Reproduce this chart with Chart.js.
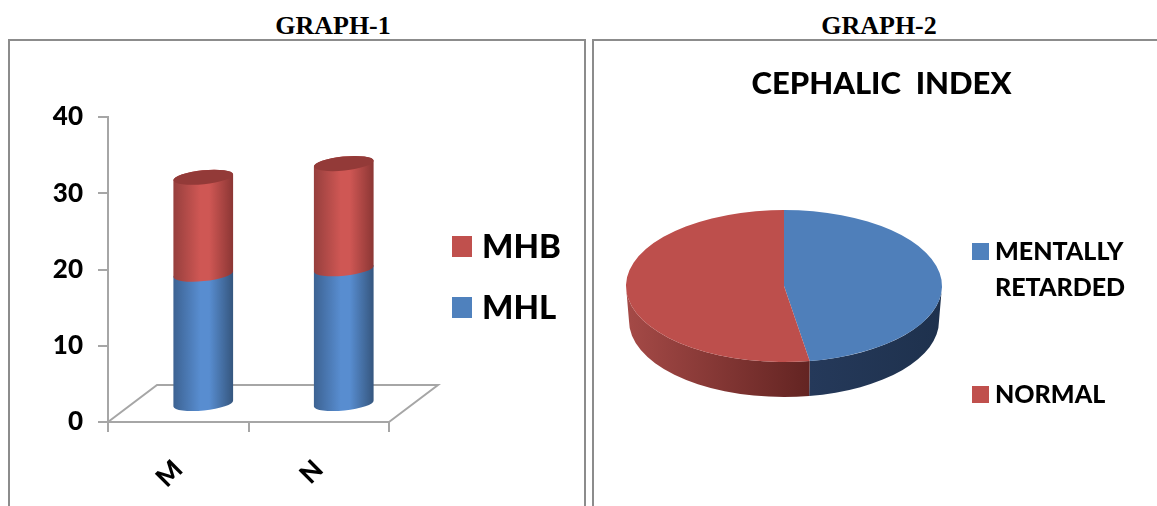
<!DOCTYPE html>
<html>
<head>
<meta charset="utf-8">
<script src="https://cdn.jsdelivr.net/npm/chart.js@4"></script>
<style>
  html, body { margin: 0; width: 1157px; height: 506px; overflow: hidden; background: #fff; }
  .abs { position: absolute; white-space: nowrap; }
  .heading { font: bold 26px/1 "Liberation Serif", serif; color: #000; transform: translateX(-50%); }
  .panel { border: 2px solid #8c8c8c; border-bottom: none; box-sizing: border-box; }
  .swatch { position: absolute; }
  .legend-text { font-family: Lato, sans-serif; font-weight: 900; color: #000; line-height: 1; transform: translateY(-50%); }
  canvas { position: absolute; }
</style>
</head>
<body>
<div class="abs panel" style="left:8px;top:39px;width:578px;height:470px"></div>
<div class="abs panel" style="left:592px;top:39px;width:600px;height:470px"></div>
<div class="abs heading" style="left:333px;top:13px">GRAPH-1</div>
<div class="abs heading" style="left:879px;top:13px">GRAPH-2</div>

<canvas id="barChart" width="575" height="466" style="left:9px;top:40px"></canvas>
<canvas id="pieChart" width="575" height="466" style="left:594px;top:40px"></canvas>

<div class="swatch" style="left:452px;top:236px;width:20px;height:21px;background:#c0504d"></div>
<div class="abs legend-text" style="left:482px;top:245px;font-size:33px">MHB</div>
<div class="swatch" style="left:452px;top:297px;width:20px;height:21px;background:#4f81bd"></div>
<div class="abs legend-text" style="left:482px;top:306px;font-size:33px">MHL</div>

<div class="swatch" style="left:972px;top:243px;width:17px;height:17px;background:#4f81bd"></div>
<div class="abs legend-text" style="left:995px;top:250px;font-size:25px">MENTALLY</div>
<div class="abs legend-text" style="left:995px;top:286px;font-size:25px">RETARDED</div>
<div class="swatch" style="left:972px;top:386px;width:17px;height:17px;background:#c0504d"></div>
<div class="abs legend-text" style="left:995px;top:393px;font-size:25px">NORMAL</div>

<script>
const categories = ['M', 'N'];
const mhlValues = [17.1, 17.8];
const mhbValues = [12.7, 13.8];
const pieLabels = ['MENTALLY RETARDED', 'NORMAL'];
const pieValues = [47.4, 52.6];

const AXIS_GRAY = '#a6a6a6';
const LABEL_FONT = 'Lato';

// oblique offset of the bars and the floor behind the axes
const BAR_DX = 25, BAR_DY = -17.5;
const FLOOR_DX = 49, FLOOR_DY = -37;
const TILT = -0.1, CAP_RY = 7;

const barColors = [
  { dark1: '#3c6292', light: '#588dd0', dark2: '#35567e' },
  { dark1: '#963f3d', light: '#cf5754', dark2: '#8b3634' },
];

// Draws the floor, and replaces the flat bars with tilted cylinders
const cylinderPlugin = {
  id: 'cylinders',
  beforeDatasetsDraw(chart) {
    const { ctx, chartArea: a } = chart;
    ctx.save();
    ctx.strokeStyle = AXIS_GRAY;
    ctx.lineWidth = 2;
    ctx.beginPath();
    ctx.moveTo(a.left, a.bottom);
    ctx.lineTo(a.left + FLOOR_DX, a.bottom + FLOOR_DY);
    ctx.lineTo(a.right + FLOOR_DX, a.bottom + FLOOR_DY);
    ctx.lineTo(a.right, a.bottom);
    ctx.stroke();
    ctx.restore();
  },
  beforeDatasetDraw() {
    return false;
  },
  afterDatasetsDraw(chart) {
    const { ctx } = chart;
    chart.data.datasets.forEach((ds, i) => {
      const colors = barColors[i];
      chart.getDatasetMeta(i).data.forEach((bar) => {
        const x = bar.x + BAR_DX;
        const rx = bar.width / 2;
        const grad = ctx.createLinearGradient(x - rx, 0, x + rx, 0);
        grad.addColorStop(0, colors.dark1);
        grad.addColorStop(0.45, colors.light);
        grad.addColorStop(0.6, colors.light);
        grad.addColorStop(1, colors.dark2);
        ctx.save();
        ctx.fillStyle = grad;
        ctx.beginPath();
        ctx.ellipse(x, bar.base + BAR_DY, rx, CAP_RY, TILT, 0, Math.PI);
        ctx.ellipse(x, bar.y + BAR_DY, rx, CAP_RY, TILT, Math.PI, Math.PI * 2);
        ctx.closePath();
        ctx.fill();
        if (i === chart.data.datasets.length - 1) {
          ctx.fillStyle = '#933a38';
          ctx.beginPath();
          ctx.ellipse(x, bar.y + BAR_DY, rx, CAP_RY, TILT, 0, Math.PI * 2);
          ctx.fill();
        }
        ctx.restore();
      });
    });
  },
};

new Chart(document.getElementById('barChart'), {
  type: 'bar',
  data: {
    labels: categories,
    datasets: [
      { label: 'MHL', data: mhlValues, backgroundColor: '#4f81bd', barThickness: 60 },
      { label: 'MHB', data: mhbValues, backgroundColor: '#c0504d', barThickness: 60 },
    ],
  },
  options: {
    responsive: false,
    animation: false,
    layout: { padding: { top: 77, right: 195, left: 0, bottom: 0 } },
    plugins: { legend: { display: false }, tooltip: { enabled: false } },
    scales: {
      x: {
        stacked: true,
        afterFit: (s) => { s.height = 84; },
        grid: { drawOnChartArea: false, color: AXIS_GRAY, lineWidth: 2, tickLength: 10 },
        border: { color: AXIS_GRAY, width: 2 },
        ticks: {
          color: '#000',
          padding: 22,
          maxRotation: 45,
          minRotation: 45,
          font: { family: LABEL_FONT, weight: '900', size: 26 },
        },
      },
      y: {
        stacked: true,
        min: 0,
        max: 40,
        afterFit: (s) => { s.width = 99; },
        grid: { drawOnChartArea: false, color: AXIS_GRAY, lineWidth: 2, tickLength: 10 },
        border: { color: AXIS_GRAY, width: 2 },
        ticks: {
          stepSize: 10,
          color: '#000',
          padding: 15,
          font: { family: LABEL_FONT, weight: '900', size: 26 },
        },
      },
    },
  },
  plugins: [cylinderPlugin],
});

// Squashes the pie into an ellipse and puts a side wall under it
const PIE_SQUASH = 76 / 158;
const PIE_CENTER_X = 190, PIE_CENTER_Y = 246; // canvas coordinates
const PIE_DEPTH = 35;
const sideColors = [
  ['#25395a', '#1e314d'],
  ['#a54a47', '#632422'],
];

const tiltPlugin = {
  id: 'tiltedPie',
  beforeDatasetsDraw(chart) {
    const { ctx } = chart;
    const arcs = chart.getDatasetMeta(0).data;
    const cy = arcs[0].y;
    const rx = arcs[0].outerRadius;
    const ry = rx * PIE_SQUASH;
    arcs.forEach((arc, i) => {
      const from = Math.max(arc.startAngle, 0);
      const to = Math.min(arc.endAngle, Math.PI);
      if (to <= from) return;
      const grad = ctx.createLinearGradient(
        PIE_CENTER_X + rx * Math.cos(to), 0,
        PIE_CENTER_X + rx * Math.cos(from), 0
      );
      grad.addColorStop(0, sideColors[i][0]);
      grad.addColorStop(1, sideColors[i][1]);
      ctx.save();
      ctx.fillStyle = grad;
      ctx.beginPath();
      ctx.ellipse(PIE_CENTER_X, PIE_CENTER_Y, rx, ry, 0, from, to);
      ctx.ellipse(PIE_CENTER_X, PIE_CENTER_Y + PIE_DEPTH, rx - 3, ry, 0, to, from, true);
      ctx.closePath();
      ctx.fill();
      ctx.restore();
    });
    ctx.save();
    ctx.translate(PIE_CENTER_X, PIE_CENTER_Y);
    ctx.scale(1, PIE_SQUASH);
    ctx.translate(-arcs[0].x, -cy);
  },
  afterDatasetsDraw(chart) {
    chart.ctx.restore();
  },
};

new Chart(document.getElementById('pieChart'), {
  type: 'pie',
  data: {
    labels: pieLabels,
    datasets: [{ data: pieValues, backgroundColor: ['#4f7fba', '#bd4f4c'], borderWidth: 0, radius: 158 }],
  },
  options: {
    responsive: false,
    animation: false,
    plugins: {
      legend: { display: false },
      tooltip: { enabled: false },
      title: {
        display: true,
        text: 'CEPHALIC  INDEX',
        color: '#000',
        padding: { top: 25, bottom: 10 },
        font: { family: LABEL_FONT, weight: '900', size: 31 },
      },
    },
  },
  plugins: [tiltPlugin],
});
</script>
</body>
</html>
